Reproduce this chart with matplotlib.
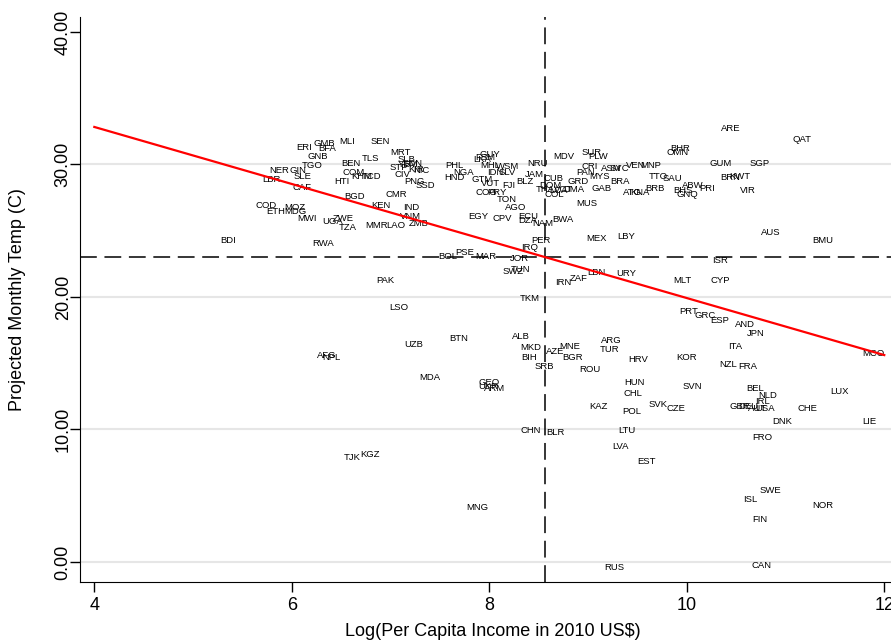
import matplotlib
matplotlib.use("Agg")
import matplotlib.pyplot as plt

plt.rcParams['font.family'] = ['Liberation Sans', 'DejaVu Sans']

# country code, log income, projected temp (label is drawn at the point)
codes = ['BDI', 'RWA', 'COD', 'ETH', 'MOZ', 'MDG', 'MWI', 'UGA', 'ZWE', 'TZA',
         'MMR', 'LAO', 'ZMB', 'VNM', 'IND', 'KEN', 'CMR', 'BGD', 'CAF', 'LBR',
         'NER', 'GIN', 'SLE', 'TGO', 'GNB', 'ERI', 'GMB', 'BFA', 'MLI', 'SEN',
         'BEN', 'TLS', 'COM', 'KHM', 'TCD', 'HTI', 'MRT', 'SLB', 'STP', 'CIV',
         'PNG', 'SSD', 'NIC', 'SDN', 'YEM', 'KIR',
         'PHL', 'HND', 'NGA', 'GUY', 'FSM', 'LKA', 'MHL', 'IDN', 'WSM', 'SLV',
         'GTM', 'VUT', 'COG', 'PRY', 'FJI', 'TON', 'AGO', 'EGY', 'CPV', 'ECU',
         'DZA', 'NAM', 'BWA', 'NRU', 'JAM', 'BLZ', 'CUB', 'DOM', 'THA', 'VCT',
         'DMA', 'COL', 'LCA', 'PER', 'IRQ', 'JOR', 'BOL', 'PSE', 'MAR', 'SWZ',
         'TUN', 'MDV', 'SUR', 'PLW', 'CRI', 'PAN', 'ASM', 'SYC', 'VEN', 'MNP',
         'GRD', 'MYS', 'BRA', 'TTO', 'SAU', 'OMN', 'BHR', 'GAB', 'MUS', 'ATG',
         'KNA', 'BRB', 'ABW', 'PRI', 'BHS', 'GNQ', 'MEX', 'LBY', 'GUM', 'SGP',
         'KWT', 'BRN', 'VIR', 'ARE', 'QAT', 'AUS', 'BMU', 'ISR', 'CYP',
         'PAK', 'LSO', 'UZB', 'BTN', 'ALB', 'MKD', 'BIH', 'SRB', 'AFG', 'NPL',
         'MDA', 'GEO', 'UKR', 'ARM', 'TKM', 'CHN', 'TJK', 'KGZ',
         'IRN', 'ZAF', 'LBN', 'URY', 'MLT', 'PRT', 'GRC', 'ESP', 'AND', 'JPN',
         'ITA', 'NZL', 'FRA', 'MCO', 'ARG', 'TUR', 'AZE', 'MNE', 'BGR', 'HRV',
         'KOR', 'ROU', 'HUN', 'SVN', 'CHL', 'KAZ', 'SVK', 'CZE', 'POL', 'BLR',
         'LTU', 'LVA', 'EST', 'BEL', 'NLD', 'IRL', 'GBR', 'DEU', 'AUT', 'USA',
         'LUX', 'CHE', 'DNK', 'LIE', 'FRO', 'MNG', 'ISL', 'SWE', 'NOR', 'FIN',
         'RUS', 'CAN']

log_income = [5.36, 6.32, 5.74, 5.84, 6.03, 6.04, 6.15, 6.41, 6.52, 6.57,
              6.86, 7.05, 7.29, 7.20, 7.21, 6.90, 7.06, 6.64, 6.10, 5.79,
              5.87, 6.06, 6.11, 6.21, 6.26, 6.12, 6.33, 6.36, 6.56, 6.90,
              6.60, 6.80, 6.63, 6.71, 6.81, 6.51, 7.10, 7.16, 7.08, 7.12,
              7.24, 7.35, 7.31, 7.22, 7.18, 7.26,
              7.65, 7.65, 7.74, 8.01, 7.96, 7.93, 8.01, 8.06, 8.19, 8.18,
              7.93, 8.01, 7.97, 8.08, 8.20, 8.18, 8.27, 7.89, 8.13, 8.39,
              8.39, 8.54, 8.75, 8.49, 8.46, 8.36, 8.65, 8.62, 8.57, 8.75,
              8.86, 8.66, 8.70, 8.52, 8.41, 8.31, 7.58, 7.75, 7.96, 8.24,
              8.32, 8.75, 9.04, 9.10, 9.02, 8.97, 9.24, 9.32, 9.48, 9.63,
              8.90, 9.12, 9.32, 9.71, 9.85, 9.91, 9.93, 9.14, 8.99, 9.45,
              9.53, 9.68, 10.06, 10.21, 9.96, 10.01, 9.09, 9.39, 10.34, 10.74,
              10.54, 10.44, 10.62, 10.45, 11.17, 10.85, 11.38, 10.34, 10.34,
              6.95, 7.08, 7.23, 7.69, 8.32, 8.42, 8.40, 8.56, 6.35, 6.40,
              7.40, 8.00, 7.99, 8.05, 8.41, 8.42, 6.61, 6.79,
              8.75, 8.91, 9.08, 9.39, 9.96, 10.02, 10.19, 10.33, 10.59, 10.70,
              10.49, 10.42, 10.62, 11.89, 9.24, 9.22, 8.67, 8.81, 8.84, 9.51,
              10.00, 9.02, 9.47, 10.06, 9.45, 9.11, 9.71, 9.89, 9.44, 8.67,
              9.39, 9.33, 9.59, 10.69, 10.82, 10.77, 10.54, 10.62, 10.72, 10.79,
              11.55, 11.22, 10.97, 11.85, 10.76, 7.88, 10.64, 10.85, 11.38, 10.74,
              9.27, 10.76]

temp = [24.23, 24.00, 26.87, 26.42, 26.79, 26.42, 25.89, 25.66, 25.96, 25.28,
        25.43, 25.43, 25.58, 26.04, 26.79, 26.94, 27.77, 27.55, 28.30, 28.83,
        29.51, 29.51, 29.13, 29.96, 30.57, 31.25, 31.55, 31.17, 31.77, 31.70,
        30.11, 30.42, 29.36, 29.13, 29.06, 28.75, 30.87, 30.34, 29.74, 29.28,
        28.75, 28.38, 29.51, 30.10, 30.00, 29.60,
        29.89, 28.98, 29.36, 30.72, 30.50, 30.40, 29.96, 29.43, 29.81, 29.36,
        28.83, 28.60, 27.92, 27.85, 28.38, 27.32, 26.72, 26.11, 25.89, 26.04,
        25.74, 25.58, 25.81, 30.11, 29.28, 28.68, 28.91, 28.45, 28.08, 28.08,
        28.08, 27.77, 28.00, 24.23, 23.70, 22.94, 23.02, 23.32, 23.09, 21.96,
        22.11, 30.57, 30.87, 30.57, 29.81, 29.43, 29.70, 29.66, 29.89, 29.89,
        28.75, 29.06, 28.68, 29.13, 28.91, 30.94, 31.17, 28.15, 27.09, 27.92,
        27.85, 28.15, 28.38, 28.15, 28.00, 27.77, 24.45, 24.53, 30.04, 30.11,
        29.13, 28.98, 28.00, 32.75, 31.85, 24.83, 24.30, 22.72, 21.28,
        21.28, 19.17, 16.38, 16.83, 16.98, 16.15, 15.47, 14.72, 15.62, 15.40,
        13.96, 13.51, 13.21, 13.06, 19.85, 9.89, 7.92, 8.08,
        21.06, 21.43, 21.81, 21.74, 21.28, 18.94, 18.57, 18.19, 17.96, 17.28,
        16.23, 14.87, 14.72, 15.77, 16.68, 16.00, 15.92, 16.23, 15.47, 15.25,
        15.40, 14.49, 13.58, 13.21, 12.68, 11.70, 11.92, 11.62, 11.32, 9.81,
        9.89, 8.75, 7.55, 13.13, 12.60, 12.08, 11.77, 11.70, 11.55, 11.55,
        12.83, 11.62, 10.57, 10.64, 9.36, 4.08, 4.75, 5.36, 4.23, 3.17,
        -0.38, -0.23]

# fitted line and sample means
fit_x = [4, 12]
fit_intercept = 41.44
fit_slope = -2.152
income_mean = 8.56
temp_mean = 23.02

yticks = [0, 10, 20, 30, 40]
xticks = [4, 6, 8, 10, 12]

fig = plt.figure(figsize=(8.91, 6.44), dpi=100)
ax = fig.add_axes([80 / 891, 62 / 644, 825 / 891, 565 / 644])
ax.set_xlim(3.855, 12.21)
ax.set_ylim(-1.51, 41.13)

for yv in yticks[:-1]:
    ax.axhline(yv, color='#e6e6e6', lw=1.5, zorder=0)

for c, xv, yv in zip(codes, log_income, temp):
    ax.text(xv, yv, c, fontsize=6.8, ha='center', va='center', color='black', zorder=3)

ax.plot(fit_x, [fit_intercept + fit_slope * v for v in fit_x], color='red', lw=1.6, zorder=4)
ax.axvline(income_mean, color='black', lw=1.1, dashes=(11, 5), zorder=2)
ax.axhline(temp_mean, color='black', lw=1.1, dashes=(11, 5), zorder=2)

ax.set_xticks(xticks)
ax.set_yticks(yticks)
ax.set_yticklabels(['%.2f' % v for v in yticks], rotation=90, va='center')
ax.tick_params(labelsize=13, length=7, width=1, direction='out')
ax.tick_params(axis='y', pad=-1)
ax.tick_params(axis='x', pad=4)
ax.spines['top'].set_visible(False)
ax.spines['right'].set_visible(False)
ax.set_xlabel('Log(Per Capita Income in 2010 US$)', fontsize=13, labelpad=6)
ax.set_ylabel('Projected Monthly Temp (C)', fontsize=13)
ax.yaxis.set_label_coords(-0.0655, 0.5)

fig.savefig('out.png', dpi=100)
